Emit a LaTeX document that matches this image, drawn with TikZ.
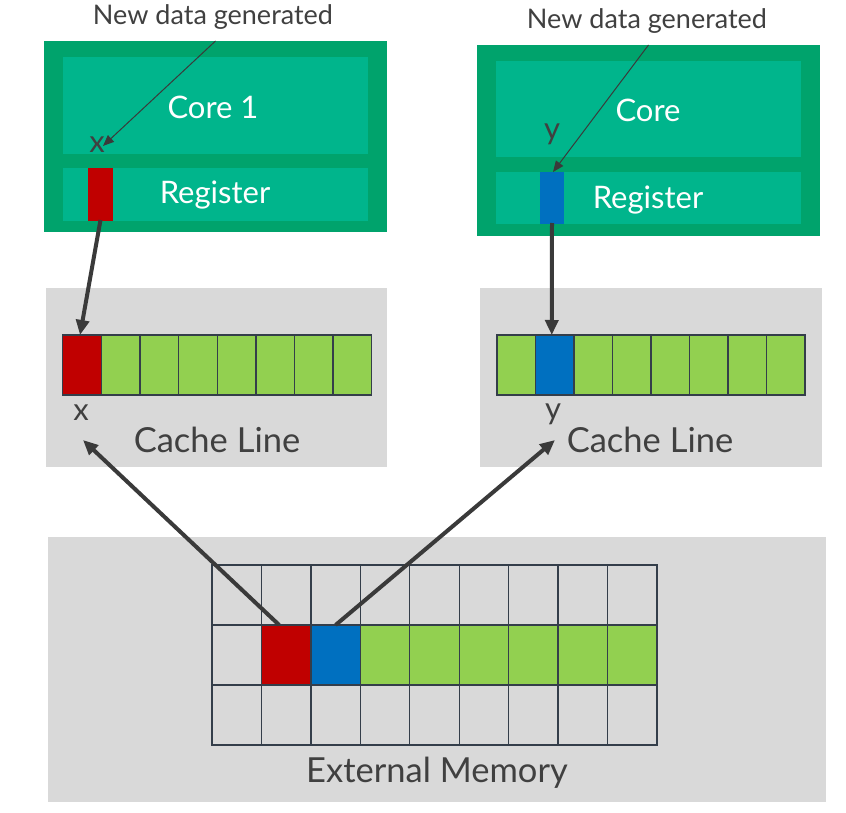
\documentclass[tikz,border=0pt]{standalone}
\usepackage{fontspec}
\setmainfont{Lato}
\usetikzlibrary{arrows.meta}
\definecolor{outerg}{RGB}{0,163,108}
\definecolor{innerg}{RGB}{0,181,140}
\definecolor{redc}{RGB}{192,0,0}
\definecolor{bluec}{RGB}{0,112,192}
\definecolor{greenc}{RGB}{146,208,80}
\definecolor{grayb}{RGB}{217,217,217}
\definecolor{gridc}{RGB}{52,62,74}
\definecolor{txt}{RGB}{64,64,64}
\definecolor{arr}{RGB}{58,58,58}
\begin{document}
\begin{tikzpicture}[x=1pt,y=-1pt,
  panel/.style={draw=none,inner sep=0pt,outer sep=0pt,anchor=north west},
  cell/.style={draw=gridc,line width=1.4pt,inner sep=0pt,outer sep=0pt,anchor=north west,minimum height=60pt},
  lbl/.style={text=txt,inner sep=0pt,font=\fontsize{34.5}{40}\selectfont},
  var/.style={text=txt,inner sep=0pt,font=\fontsize{31}{36}\selectfont},
  wlbl/.style={text=white,inner sep=0pt,font=\fontsize{31}{36}\selectfont},
  small/.style={text=txt,inner sep=0pt,font=\fontsize{27}{32}\selectfont},
  thick arrow/.style={draw=arr,line width=4pt,-{Triangle[length=15pt,width=13pt]}},
  thin arrow/.style={draw=arr,line width=1pt,-{Triangle[length=11pt,width=9pt]}}]
\useasboundingbox (0,0) rectangle (846,813);

% backgrounds
\node[panel,fill=grayb,minimum width=341pt,minimum height=179pt] (cl1bg) at (46,288) {};
\node[panel,fill=grayb,minimum width=342pt,minimum height=179pt] (cl2bg) at (480,288) {};
\node[panel,fill=grayb,minimum width=778pt,minimum height=265pt] (membg) at (48,537) {};

% core 1
\node[panel,fill=outerg,minimum width=343pt,minimum height=191pt] (core1box) at (44,41) {};
\node[panel,fill=innerg,minimum width=305pt,minimum height=97pt] (core1) at (63,57) {};
\node[panel,fill=innerg,minimum width=305pt,minimum height=53pt] (reg1) at (63,168) {};
\node[panel,fill=redc,minimum width=25pt,minimum height=53pt] (reg1x) at (88,168) {};
\node[wlbl] (core1t) at (213,107) {Core 1};
\node[wlbl] (reg1t) at (215,195) {Register};
\node[small] (new1) at (213,17) {New data generated};
\node[var] (x1) at (97,145) {x};

% core 2
\node[panel,fill=outerg,minimum width=343pt,minimum height=191pt] (core2box) at (477,45) {};
\node[panel,fill=innerg,minimum width=305pt,minimum height=96pt] (core2) at (496,61) {};
\node[panel,fill=innerg,minimum width=305pt,minimum height=52pt] (reg2) at (496,172) {};
\node[panel,fill=bluec,minimum width=24pt,minimum height=52pt] (reg2y) at (540,172) {};
\node[wlbl] (core2t) at (648,110) {Core};
\node[wlbl] (reg2t) at (648,200) {Register};
\node[small] (new2) at (647,21) {New data generated};
\node[var] (y1) at (552,134) {y};

% cache line 1
\foreach \i in {1,...,8}{
  \pgfmathsetmacro\xx{62.7+(\i-1)*38.625}
  \ifnum\i=1 \def\cc{redc}\else\def\cc{greenc}\fi
  \node[cell,fill=\cc,minimum width=38.625pt] (ca-\i) at (\xx,335) {};
}
\node[var] (x2) at (81,413) {x};
\node[lbl] (cl1t) at (217,440) {Cache Line};

% cache line 2
\foreach \i in {1,...,8}{
  \pgfmathsetmacro\xx{497+(\i-1)*38.5}
  \ifnum\i=2 \def\cc{bluec}\else\def\cc{greenc}\fi
  \node[cell,fill=\cc,minimum width=38.5pt] (cb-\i) at (\xx,335) {};
}
\node[var] (y2) at (553,414) {y};
\node[lbl] (cl2t) at (650,440) {Cache Line};

% memory grid
\foreach \r in {1,2,3}{
  \foreach \c in {1,...,9}{
    \pgfmathsetmacro\xx{212+(\c-1)*49.44}
    \pgfmathsetmacro\yy{565+(\r-1)*60}
    \def\cc{grayb}
    \ifnum\r=2
      \ifnum\c=2 \def\cc{redc}\fi
      \ifnum\c=3 \def\cc{bluec}\fi
      \ifnum\c>3 \def\cc{greenc}\fi
    \fi
    \node[cell,fill=\cc,minimum width=49.44pt] (m-\r-\c) at (\xx,\yy) {};
  }
}
\node[lbl] (memt) at (437,773) {External Memory};

% connectors
\draw[thin arrow] (core1box.north) -- ([xshift=6pt,yshift=-9pt]x1.north);
\draw[thin arrow] (core2box.north) -- ([xshift=1pt]reg2y.north);
\draw[thick arrow] ([yshift=1pt]reg1x.south) -- ([xshift=-2pt]ca-1.north);
\draw[thick arrow] ([yshift=1pt]reg2y.south) -- ([xshift=-3pt]cb-2.north);
\coordinate (e1) at (83,440);
\coordinate (e2) at (555,440);
\draw[thick arrow] ([xshift=-7pt]m-2-2.north) -- (e1);
\draw[thick arrow] (m-2-3.north) -- (e2);
\end{tikzpicture}
\end{document}
